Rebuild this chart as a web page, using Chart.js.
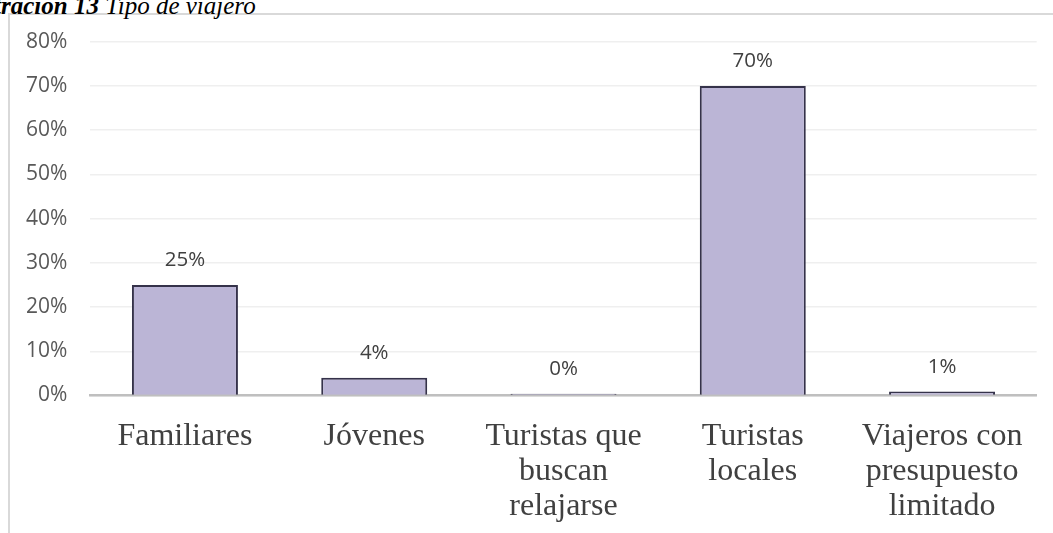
<!DOCTYPE html>
<html>
<head>
<meta charset="utf-8">
<script src="https://cdn.jsdelivr.net/npm/chart.js@4.4.0/dist/chart.umd.min.js"></script>
<style>
  html, body { margin: 0; padding: 0; background: #ffffff; overflow: hidden; }
  #wrap { position: relative; width: 1053px; height: 533px; overflow: hidden; background: #fff; }
  #frame { position: absolute; left: 8px; top: 13px; right: -4px; bottom: -4px;
           border-left: 2px solid #d9d9d9; border-top: 2px solid #d9d9d9; }
  #title { position: absolute; top: -9px; left: 0; white-space: nowrap;
           font-family: "Liberation Serif", "Times New Roman", serif; font-style: italic;
           font-size: 25px; color: #000; line-height: 30px; }
  #title b { font-weight: bold; }
  canvas { position: absolute; left: 0; top: 0; }
</style>
</head>
<body>
<div id="wrap">
  <div id="frame"></div>
  <div id="title"><b id="tnum">Ilustración 13</b> Tipo de viajero</div>
  <canvas id="c" width="1053" height="533"></canvas>
</div>
<script>
// ---- data ----
const categories = [
  "Familiares",
  "Jóvenes",
  ["Turistas que", "buscan", "relajarse"],
  ["Turistas", "locales"],
  ["Viajeros con", "presupuesto", "limitado"]
];
const shares = [0.25, 0.04, 0.004, 0.70, 0.009];
const yTicks = [0, 0.1, 0.2, 0.3, 0.4, 0.5, 0.6, 0.7, 0.8];

// position title so that "Ilust" is cut at the left edge
(function () {
  const ctx = document.createElement('canvas').getContext('2d');
  ctx.font = 'italic bold 25px "Liberation Serif"';
  const w = ctx.measureText('Ilust').width;
  document.getElementById('title').style.left = (-w + 1) + 'px';
})();

const pct = v => Math.round(v * 100) + '%';

const labelPlugin = {
  id: 'barLabels',
  afterDatasetsDraw(chart) {
    const ctx = chart.ctx;
    const meta = chart.getDatasetMeta(0);
    ctx.save();
    ctx.font = '20.5px "Open Sans"';
    ctx.fillStyle = '#404040';
    ctx.textAlign = 'center';
    ctx.textBaseline = 'middle';
    meta.data.forEach((bar, i) => {
      ctx.fillText(pct(shares[i]), bar.x, bar.y - 24.5);
    });
    ctx.restore();
  }
};

new Chart(document.getElementById('c'), {
  type: 'bar',
  data: {
    labels: categories,
    datasets: [{
      data: shares,
      backgroundColor: '#bbb5d6',
      borderColor: '#35324a',
      borderWidth: 2,
      barPercentage: 0.56,
      categoryPercentage: 1.0
    }]
  },
  options: {
    responsive: false,
    animation: false,
    devicePixelRatio: 1,
    layout: { padding: { left: 0, right: 16.3, top: 41.7, bottom: 0 } },
    plugins: { legend: { display: false }, tooltip: { enabled: false }, title: { display: false } },
    scales: {
      x: {
        grid: { display: false, drawTicks: false },
        border: { display: true, color: '#bfbfbf', width: 2.5 },
        ticks: {
          color: '#404040',
          font: { family: '"Liberation Serif"', size: 32, lineHeight: 1.1 },
          padding: 23,
          maxRotation: 0,
          autoSkip: false
        },
        afterFit(scale) { scale.height = 533 - 395.5; }
      },
      y: {
        min: 0,
        max: 0.8,
        afterBuildTicks(scale) { scale.ticks = yTicks.map(v => ({ value: v })); },
        grid: { color: '#efefef', lineWidth: 1.5, drawTicks: false },
        border: { display: false },
        ticks: {
          color: '#595959',
          font: { family: '"Open Sans"', size: 21 },
          padding: 23,
          callback: v => pct(v)
        },
        afterFit(scale) { scale.width = 90.3; }
      }
    }
  },
  plugins: [labelPlugin]
});
</script>
</body>
</html>
